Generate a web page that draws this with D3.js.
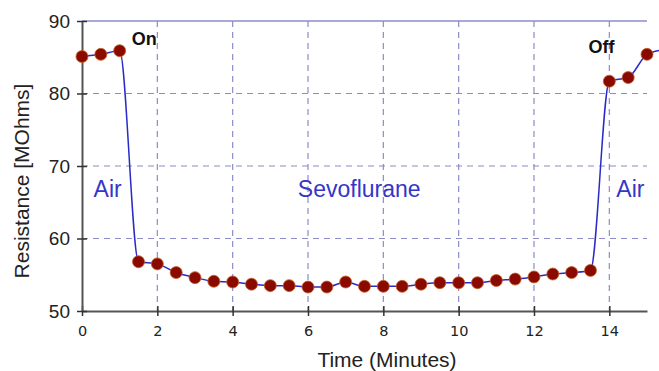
<!DOCTYPE html>
<html lang="en">
<head>
<script type="text/javascript" src="https://d3js.org/d3.v7.min.js"></script>
<style>
    body { margin: 0; background: #fff; }
    svg { display: block; }
</style>
</head>
<body>
<div id="container"></div>
<script>
    // readings taken every half minute
    const times = [0, 0.5, 1, 1.5, 2, 2.5, 3, 3.5, 4, 4.5, 5, 5.5, 6, 6.5, 7, 7.5, 8, 8.5,
                   9, 9.5, 10, 10.5, 11, 11.5, 12, 12.5, 13, 13.5, 14, 14.5, 15];
    const resistance = [85.1, 85.4, 85.9, 56.8, 56.5, 55.3, 54.6, 54.1, 54.0, 53.7, 53.5, 53.5,
                        53.3, 53.3, 54.0, 53.4, 53.4, 53.4, 53.7, 53.9, 53.9, 53.9, 54.2, 54.4,
                        54.7, 55.1, 55.3, 55.6, 81.7, 82.2, 85.4];
    // the trace runs on past the last reading
    const tailTimes = [15.4];
    const tailResistance = [86.0];

    const xTicks = [0, 2, 4, 6, 8, 10, 12, 14];
    const yTicks = [50, 60, 70, 80, 90];

    const labels = [
        {t: 0.68, r: 65.7, text: "Air", cls: "phase", anchor: "middle"},
        {t: 7.36, r: 65.7, text: "Sevoflurane", cls: "phase", anchor: "middle"},
        {t: 14.56, r: 65.7, text: "Air", cls: "phase", anchor: "middle"},
        {t: 1.32, r: 86.7, text: "On", cls: "event", anchor: "start"},
        {t: 13.45, r: 85.6, text: "Off", cls: "event", anchor: "start"}
    ];

    var width = 659,
        height = 371,
        margin = {top: 21, right: 12, bottom: 60, left: 82};

    var x = d3.scaleLinear()
              .domain([0, 15])
              .range([margin.left, width - margin.right]);

    var y = d3.scaleLinear()
              .domain([50, 90])
              .range([height - margin.bottom, margin.top]);

    var svg = d3.select("#container")
                .append("svg")
                .attr("width", width)
                .attr("height", height);

    var gridColor = "#8c8cc8";

    // dashed grid
    svg.append("g")
       .selectAll("line")
       .data(xTicks.filter(d => d > 0))
       .enter()
       .append("line")
       .attr("x1", d => x(d)).attr("x2", d => x(d))
       .attr("y1", y(90)).attr("y2", y(50))
       .attr("stroke", gridColor)
       .attr("stroke-width", 1.2)
       .attr("stroke-dasharray", "6,5");

    svg.append("g")
       .selectAll("line")
       .data(yTicks.filter(d => d > 50 && d < 90))
       .enter()
       .append("line")
       .attr("x1", x(0)).attr("x2", x(15))
       .attr("y1", d => y(d)).attr("y2", d => y(d))
       .attr("stroke", gridColor)
       .attr("stroke-width", 1.2)
       .attr("stroke-dasharray", "6,5");

    // top frame line
    svg.append("line")
       .attr("x1", x(0)).attr("x2", x(15))
       .attr("y1", y(90)).attr("y2", y(90))
       .attr("stroke", gridColor)
       .attr("stroke-width", 1.5);

    // axes
    var xAxis = svg.append("g")
       .attr("transform", "translate(0," + y(50) + ")")
       .call(d3.axisBottom(x).tickValues(xTicks).tickSizeInner(5).tickSizeOuter(0).tickPadding(10));

    var yAxis = svg.append("g")
       .attr("transform", "translate(" + x(0) + ",0)")
       .call(d3.axisLeft(y).tickValues(yTicks).tickSizeInner(5).tickSizeOuter(0).tickPadding(7));

    [xAxis, yAxis].forEach(function(g) {
        g.select(".domain").attr("stroke", "#555").attr("stroke-width", 2);
        g.selectAll(".tick line").attr("stroke", "#333").attr("stroke-width", 1.5);
    });

    // ticks cross the axis line
    xAxis.selectAll(".tick line").attr("y1", -5);
    yAxis.selectAll(".tick line").attr("x1", 5).attr("x2", -5);

    xAxis.selectAll(".tick text")
         .attr("font-family", "DejaVu Sans")
         .attr("font-size", 14.5)
         .attr("fill", "#222");

    yAxis.selectAll(".tick text")
         .attr("font-family", "Liberation Sans, Arial, sans-serif")
         .attr("font-size", 19)
         .attr("fill", "#222");

    // trace
    var lineData = times.map((t, i) => [t, resistance[i]])
                        .concat(tailTimes.map((t, i) => [t, tailResistance[i]]));

    var line = d3.line()
                 .x(d => x(d[0]))
                 .y(d => y(d[1]))
                 .curve(d3.curveMonotoneX);

    svg.append("path")
       .datum(lineData)
       .attr("d", line)
       .attr("fill", "none")
       .attr("stroke", "#2a2ac8")
       .attr("stroke-width", 1.5);

    // readings
    svg.append("g")
       .selectAll("circle")
       .data(times)
       .enter()
       .append("circle")
       .attr("cx", d => x(d))
       .attr("cy", (d, i) => y(resistance[i]))
       .attr("r", 6)
       .attr("fill", "#8b0a00")
       .attr("stroke", "#c0602a")
       .attr("stroke-width", 0.8);

    // annotations
    svg.append("g")
       .selectAll("text")
       .data(labels)
       .enter()
       .append("text")
       .attr("x", d => x(d.t))
       .attr("y", d => y(d.r))
       .attr("text-anchor", d => d.anchor)
       .attr("font-family", "Liberation Sans, Arial, sans-serif")
       .attr("font-size", d => d.cls === "phase" ? 23 : 18)
       .attr("font-weight", d => d.cls === "phase" ? "normal" : "bold")
       .attr("fill", d => d.cls === "phase" ? "#3535c8" : "#111")
       .text(d => d.text);

    // axis titles
    svg.append("text")
       .attr("x", 387)
       .attr("y", 367)
       .attr("text-anchor", "middle")
       .attr("font-family", "Liberation Sans, Arial, sans-serif")
       .attr("font-size", 21)
       .attr("fill", "#222")
       .text("Time (Minutes)");

    svg.append("text")
       .attr("transform", "translate(29,181) rotate(-90)")
       .attr("text-anchor", "middle")
       .attr("font-family", "Liberation Sans, Arial, sans-serif")
       .attr("font-size", 21)
       .attr("fill", "#222")
       .text("Resistance [MOhms]");
</script>
</body>
</html>
